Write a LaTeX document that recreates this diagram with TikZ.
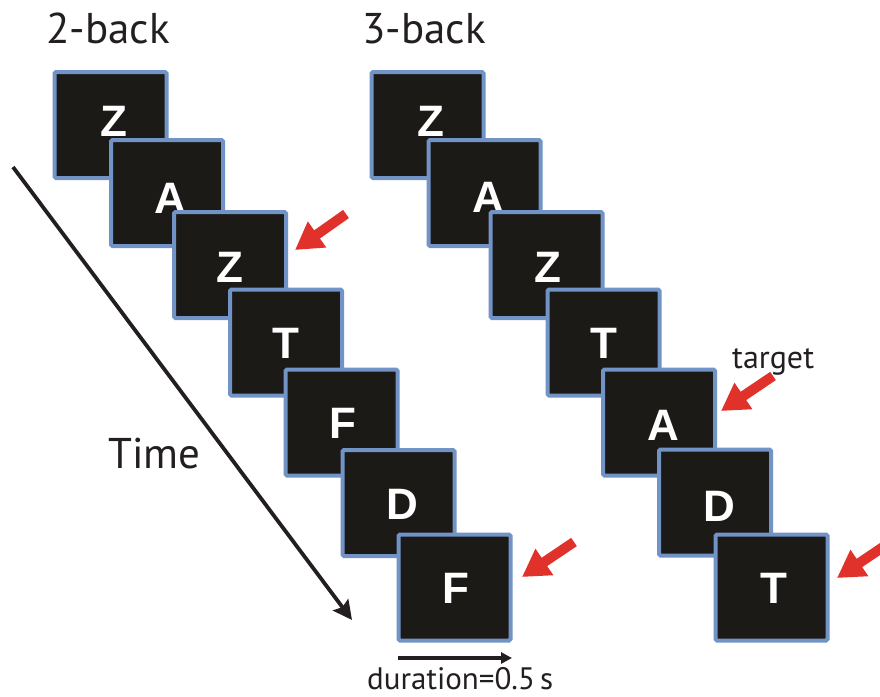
\documentclass[tikz,border=0pt]{standalone}
\usepackage{fontspec}
\setmainfont{PT Sans}
\newfontfamily\letterfont{Liberation Sans}
\usetikzlibrary{arrows.meta}

\definecolor{cardfill}{HTML}{1C1A17}
\definecolor{cardedge}{HTML}{7193C6}
\definecolor{cuered}{HTML}{E1312B}
\definecolor{ink}{HTML}{231F20}

\tikzset{
  card/.style={draw=cardedge, fill=cardfill, line width=4pt, rounded corners=1.5pt,
    minimum width=112pt, minimum height=106pt, inner sep=0pt, outer sep=0pt},
  glyph/.style={text=white, inner sep=0pt,
    font=\letterfont\bfseries\fontsize{44}{44}\selectfont},
  heading/.style={text=ink, inner sep=0pt, anchor=base west,
    font=\fontsize{43}{43}\selectfont},
  smalltext/.style={text=ink, inner sep=0pt, anchor=base west,
    font=\fontsize{32}{32}\selectfont},
  cue/.style={draw=cuered, line width=10pt, -{Triangle[length=27pt,width=30pt]}},
  timeline/.style={draw=ink, line width=3.8pt,
    -{Stealth[length=19pt,width=19pt,inset=3pt]}},
  spanline/.style={draw=ink, line width=3.6pt, -{Triangle[length=11pt,width=11pt]}},
}

\begin{document}
\begin{tikzpicture}[x=1pt,y=-1pt]
  \clip (0,0) rectangle (880,696);
  \fill[white] (0,0) rectangle (880,696);

  % headings
  \node[heading] (head2) at (46,43) {2-back};
  \node[heading] (head3) at (362,43) {3-back};

  % 2-back sequence: card centre, letter, letter offset
  \foreach \n/\x/\y/\ch/\dx/\dy in {
      1/110.5/125/Z/3/-4, 2/167/193/A/3/5, 3/230/265/Z/0/2,
      4/286/342.5/T/0/1, 5/341.5/422.5/F/1/0.5, 6/398.5/503/D/4/1,
      7/454.5/587.5/F/1/0.5} {
    \node[card] (two\n) at (\x,\y) {};
    \node[glyph] (twoch\n) at (\x+\dx,\y+\dy) {\ch};
  }

  % 3-back sequence
  \foreach \n/\x/\y/\ch/\dx/\dy in {
      1/427.5/125/Z/3/-4, 2/484.5/193/A/3.5/4, 3/546.5/265/Z/1/2.5,
      4/603.5/342.5/T/0/1, 5/659/422.5/A/4/3, 6/715/502.5/D/4/4,
      7/771.5/587.5/T/2/0.5} {
    \node[card] (three\n) at (\x,\y) {};
    \node[glyph] (threech\n) at (\x+\dx,\y+\dy) {\ch};
  }

  % time axis
  \coordinate (tstart) at (13,167);
  \coordinate (tend) at (352,620);
  \draw[timeline] (tstart) -- (tend);
  \node[heading] (timelabel) at (108,468) {Time};

  % stimulus duration
  \coordinate (dstart) at (398,658);
  \coordinate (dend) at (512,658);
  \draw[spanline] (dstart) -- (dend);
  \node[smalltext, font=\fontsize{31}{31}\selectfont] (durlabel) at (367,689) {duration=0.5\,s};

  % target markers
  \coordinate (c1a) at (346,214);  \coordinate (c1b) at (295,250);
  \coordinate (c2a) at (574,542);  \coordinate (c2b) at (522,577);
  \coordinate (c3a) at (773,376);  \coordinate (c3b) at (721,411);
  \coordinate (c4a) at (889,543);  \coordinate (c4b) at (837,578);
  \draw[cue] (c1a) -- (c1b);
  \draw[cue] (c2a) -- (c2b);
  \draw[cue] (c3a) -- (c3b);
  \draw[cue] (c4a) -- (c4b);
  \node[smalltext] (targetlabel) at (732,368) {target};
\end{tikzpicture}
\end{document}
